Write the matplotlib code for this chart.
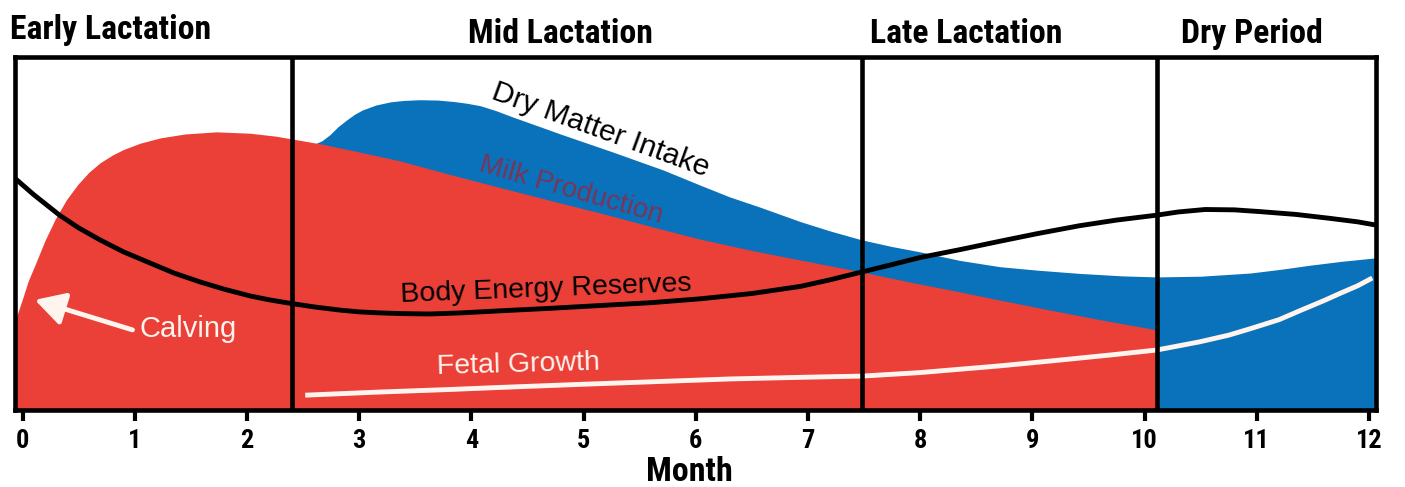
import matplotlib.pyplot as plt
from matplotlib import font_manager

# values: month vs relative level (0-100)
milk_month = [-0.07, 0.00, 0.05, 0.11, 0.20, 0.29, 0.39, 0.49, 0.59, 0.69, 0.80,
              0.90, 1.05, 1.23, 1.45, 1.73, 2.03, 2.25, 2.40, 2.67, 3.00, 3.36,
              3.80, 4.26, 4.70, 5.15, 5.60, 6.04, 6.50, 6.93, 7.48, 7.90, 8.27,
              8.70, 9.16, 9.60, 10.11]
milk_level = [24.9, 31.5, 36.5, 41.0, 48.0, 54.0, 59.5, 63.8, 67.3, 70.0, 72.2,
              73.8, 75.6, 77.1, 78.2, 78.8, 78.4, 77.6, 76.8, 75.3, 73.1, 70.6,
              66.8, 63.0, 59.4, 55.8, 52.0, 48.4, 45.2, 42.5, 39.1, 36.3, 34.0,
              31.2, 28.3, 25.6, 22.7]

dmi_month = [2.58, 2.67, 2.74, 2.81, 2.89, 2.96, 3.03, 3.15, 3.28, 3.40, 3.54,
             3.70, 3.84, 3.96, 4.08, 4.22, 4.37, 4.60, 4.82, 5.04, 5.26, 5.48,
             5.71, 6.04, 6.30, 6.57, 6.93, 7.20, 7.48, 7.75, 8.00, 8.35, 8.71,
             9.05, 9.42, 9.80, 10.11, 10.50, 10.94, 11.20, 11.47, 11.75, 12.06]
dmi_level = [75.0, 76.3, 78.0, 80.2, 82.2, 83.8, 85.0, 86.4, 87.3, 87.7, 87.9,
             87.8, 87.4, 86.9, 86.2, 84.8, 83.0, 80.4, 77.9, 75.5, 73.1, 70.6,
             68.0, 63.7, 60.4, 57.5, 53.4, 50.7, 48.2, 46.3, 44.8, 42.4, 40.6,
             39.6, 38.7, 38.0, 37.7, 37.9, 38.8, 39.8, 41.0, 42.1, 43.1]

body_month = [-0.07, 0.10, 0.33, 0.50, 0.69, 0.90, 1.14, 1.35, 1.58, 1.80, 2.03,
              2.20, 2.39, 2.60, 2.83, 3.00, 3.19, 3.40, 3.63, 3.90, 4.26, 4.70,
              5.15, 5.60, 6.04, 6.50, 6.93, 7.20, 7.48, 7.75, 8.00, 8.35, 8.71,
              9.05, 9.42, 9.75, 10.11, 10.30, 10.54, 10.80, 11.03, 11.35, 11.65,
              11.90, 12.06]
body_level = [65.7, 61.0, 55.2, 51.6, 48.2, 44.8, 41.6, 38.8, 36.3, 34.2, 32.3,
              31.2, 30.2, 29.2, 28.3, 27.8, 27.5, 27.3, 27.2, 27.5, 28.1, 28.8,
              29.6, 30.4, 31.5, 33.0, 35.0, 36.9, 39.1, 41.2, 43.2, 45.4, 47.8,
              50.0, 52.2, 53.8, 55.2, 56.1, 56.8, 56.7, 56.2, 55.4, 54.3,
              53.3, 52.4]

fetal_month = [2.52, 3.19, 3.80, 4.26, 5.00, 5.70, 6.31, 7.00, 7.48, 8.00, 8.71,
               9.20, 9.70, 10.11, 10.49, 10.75, 10.94, 11.20, 11.39, 11.60,
               11.74, 11.90, 12.03]
fetal_level = [4.2, 5.1, 5.8, 6.4, 7.3, 8.1, 8.8, 9.3, 9.6, 10.6, 12.5,
               14.0, 15.6, 17.0, 19.3, 21.2, 23.0, 25.6, 28.2, 31.0,
               33.0, 35.2, 37.4]

phase_ends = [2.40, 7.48, 10.11]
phase_names = ["Early Lactation", "Mid Lactation", "Late Lactation", "Dry Period"]
months = list(range(13))

RED = "#EA4038"
BLUE = "#0A72BA"
CREAM = "#FFF4EE"


def weight_num(w):
    if isinstance(w, str):
        return font_manager.weight_dict.get(w, 400)
    return w


def narrow_font():
    fl = font_manager.fontManager.ttflist
    prefs = ["Liberation Sans Narrow", "Roboto Condensed", "Open Sans Condensed",
             "Noto Sans Condensed", "DejaVu Sans Condensed"]
    for p in prefs:
        for f in fl:
            if f.name == p and weight_num(f.weight) >= 700:
                return dict(fname=f.fname)
    for f in fl:
        if f.stretch in ("condensed", "semi-condensed", "extra-condensed") \
                and weight_num(f.weight) >= 700:
            return dict(fname=f.fname)
    return dict(family="DejaVu Sans", weight="bold", stretch="condensed")


NARROW = narrow_font()


def nfp(size):
    return font_manager.FontProperties(size=size, **NARROW)


body_font = "Liberation Sans"

fig = plt.figure(figsize=(14.05, 4.87), dpi=100)
ax = fig.add_axes([15 / 1405, 1 - 410 / 487, 1361 / 1405, 353 / 487])

ax.fill_between(dmi_month, 0, dmi_level, color=BLUE, lw=0, zorder=1)
ax.fill_between(milk_month, 0, milk_level, color=RED, lw=0, zorder=2)
ax.plot(fetal_month, fetal_level, color=CREAM, lw=3.5, zorder=3,
        solid_capstyle="butt")
ax.plot(body_month, body_level, color="black", lw=3.5, zorder=4)
for x in phase_ends:
    ax.axvline(x, color="black", lw=3.3, zorder=5)

ax.set_xlim(-0.067, 12.063)
ax.set_ylim(0, 100)
ax.set_yticks([])
ax.set_xticks(months)
ax.set_xticklabels([str(m) for m in months], fontproperties=nfp(19))
ax.tick_params(axis="x", direction="out", length=8, width=3, pad=6)
for s in ax.spines.values():
    s.set_linewidth(3.3)
    s.set_zorder(6)

# curve labels
ax.text(5.15, 79.3, "Dry Matter Intake", rotation=-20, rotation_mode="anchor",
        ha="center", va="center", fontsize=21.5, family=body_font, zorder=7)
ax.text(4.89, 62.3, "Milk Production", rotation=-16, rotation_mode="anchor",
        ha="center", va="center", fontsize=20, family=body_font,
        color="#7A3558", zorder=7)
ax.text(4.67, 34.3, "Body Energy Reserves", rotation=2.2, rotation_mode="anchor",
        ha="center", va="center", fontsize=20.5, family=body_font, zorder=7)
ax.text(4.42, 12.7, "Fetal Growth", rotation=1.5, rotation_mode="anchor",
        ha="center", va="center", fontsize=20.5, family=body_font,
        color=CREAM, zorder=7)
ax.text(1.48, 22.9, "Calving", ha="center", va="center", fontsize=21,
        family=body_font, color=CREAM, zorder=7)
ax.annotate("", xy=(0.11, 31.2), xytext=(0.98, 22.7), zorder=7,
            arrowprops=dict(arrowstyle="-|>,head_length=0.9,head_width=0.5",
                            color=CREAM, lw=3.5, mutation_scale=20,
                            shrinkA=0, shrinkB=0))

# phase titles
fig.text(10 / 1405, 1 - 39 / 487, phase_names[0], ha="left", va="baseline",
         fontproperties=nfp(24.3))
fig.text(560 / 1405, 1 - 43 / 487, phase_names[1], ha="center", va="baseline",
         fontproperties=nfp(24.3))
fig.text(966 / 1405, 1 - 43 / 487, phase_names[2], ha="center", va="baseline",
         fontproperties=nfp(24.3))
fig.text(1252 / 1405, 1 - 43 / 487, phase_names[3], ha="center", va="baseline",
         fontproperties=nfp(24.3))

fig.text(689 / 1405, 1 - 481 / 487, "Month", ha="center", va="baseline",
         fontproperties=nfp(24.5))

fig.savefig("out.png", dpi=100)
